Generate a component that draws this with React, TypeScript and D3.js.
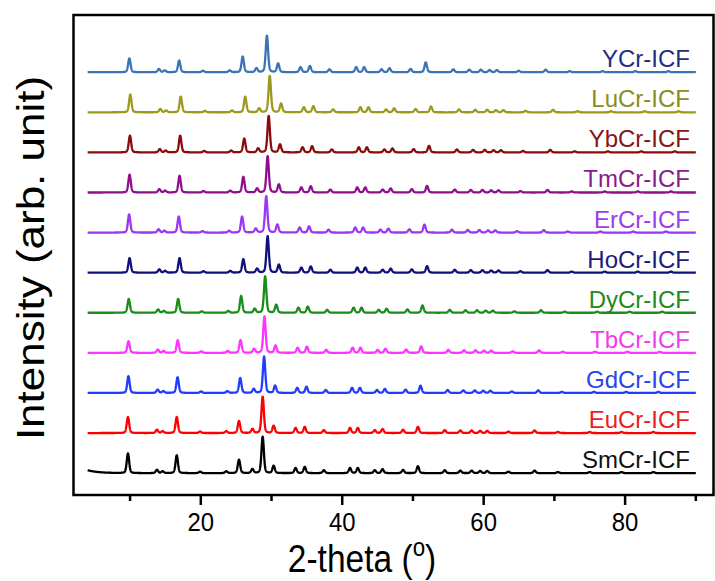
import React from "react";
import * as d3 from "d3";

// ---- data ----
const seriesNames = ["SmCr-ICF", "EuCr-ICF", "GdCr-ICF", "TbCr-ICF", "DyCr-ICF", "HoCr-ICF", "ErCr-ICF", "TmCr-ICF", "YbCr-ICF", "LuCr-ICF", "YCr-ICF"];
const lineColors = ["#000000", "#ff0000", "#1f3cff", "#ff33ff", "#1a8c1a", "#10107a", "#9b36f5", "#8e0e8e", "#8b0a0a", "#9c9a1c", "#3a74b6"];
const labelColors = ["#111111", "#ee1c1c", "#2a44e8", "#f03cf0", "#1e8a1e", "#1a1a80", "#9a3cf0", "#8a1a8a", "#8a1414", "#8c8c1c", "#1f2d86"];
// position (2-theta) of the strongest reflection for each sample
const mainPeakAngle = [28.75, 28.75, 28.95, 29.0, 29.1, 29.45, 29.25, 29.45, 29.6, 29.75, 29.35];
// reflections of SmCr-ICF (2-theta) and their relative intensities (%)
const refAngles = [9.7, 13.8, 14.6, 16.6, 19.9, 23.6, 25.4, 27.3, 28.75, 30.3, 33.4, 34.7, 37.4, 41.1, 42.2, 44.6, 45.7, 48.6, 50.7, 54.5, 56.7, 58.3, 59.5, 60.5, 63.5, 67.2, 70.5, 75.0, 79.5, 84.0];
const refIntensity = [50, 9, 5, 45, 4, 5, 38, 11, 100, 20, 14, 17, 8, 14, 14, 8, 11, 9, 19, 8, 7, 7, 6, 6, 4, 7, 3, 3, 3, 3];
// per-sample intensities of the strong reflections at ~9.7, 16.6, 25.4, 30.3, 50.7
const strongIdx = [0, 3, 6, 9, 18];
const strongIntensity = [
  [54, 49, 37, 20, 19],
  [44, 44, 33, 20, 17],
  [46, 43, 41, 20, 20],
  [32, 35, 35, 20, 18],
  [38, 38, 46, 22, 20],
  [40, 40, 37, 22, 18],
  [50, 44, 44, 22, 22],
  [49, 46, 43, 22, 18],
  [46, 46, 38, 22, 18],
  [49, 43, 43, 24, 16],
  [38, 32, 43, 24, 27],
];
const xTicksMajor = [20, 40, 60, 80];
const xTicksMinor = [10, 30, 50, 70, 90];

const W = 715, H = 581;
const left = 73.5, right = 713.5, top = 15, bottom = 495;
const OFFSET = 110;

function buildSeries(i: number) {
  const r = Math.sin((mainPeakAngle[i] / 2) * Math.PI / 180) / Math.sin((28.75 / 2) * Math.PI / 180);
  const peaks = refAngles.map((a, k) => {
    const th = Math.asin(Math.min(1, Math.sin((a / 2) * Math.PI / 180) * r)) * 360 / Math.PI;
    let I = refIntensity[k];
    const s = strongIdx.indexOf(k);
    if (s >= 0) I = strongIntensity[i][s];
    return { th, I };
  });
  const w = 0.4;
  const pts: [number, number][] = [];
  for (let t = 4; t <= 90.001; t += 0.02) {
    let v = 0;
    for (const p of peaks) {
      const d = (t - p.th) / (w / 2);
      v += p.I * (0.7 * Math.exp(-Math.LN2 * d * d) + 0.3 / (1 + d * d));
    }
    if (i === 0) v += 8 * Math.exp(-(t - 4) / 1.5);
    pts.push([t, v + i * OFFSET]);
  }
  return pts;
}

export default function App() {
  const x = d3.scaleLinear().domain([2, 92.5]).range([left, right]);
  const y = d3.scaleLinear().domain([-60, 1257]).range([bottom, top]);
  const line = d3.line<[number, number]>().x(d => x(d[0])).y(d => y(d[1]));
  const font = "'Liberation Sans', Arial, sans-serif";
  return (
    <svg width={W} height={H} style={{ position: "absolute", left: 0, top: 0, background: "#fff" }} fontFamily={font}>
      <rect x={0} y={0} width={W} height={H} fill="#fff" />
      {seriesNames.map((n, i) => (
        <path key={n} d={line(buildSeries(i)) || ""} fill="none" stroke={lineColors[i]} strokeWidth={2.3} strokeLinejoin="round" />
      ))}
      {seriesNames.map((n, i) => (
        <text key={n + "l"} x={690} y={y(i * OFFSET) - 5} textAnchor="end" fontSize={24} fill={labelColors[i]}>{n}</text>
      ))}
      <rect x={left} y={top} width={right - left} height={bottom - top} fill="none" stroke="#000" strokeWidth={2.5} />
      {xTicksMajor.map(t => (
        <g key={t}>
          <line x1={x(t)} x2={x(t)} y1={bottom} y2={bottom + 10} stroke="#000" strokeWidth={2.5} />
          <text transform={`translate(${x(t)},531) scale(0.92,1)`} textAnchor="middle" fontSize={26}>{t}</text>
        </g>
      ))}
      {xTicksMinor.map(t => (
        <line key={t} x1={x(t)} x2={x(t)} y1={bottom} y2={bottom + 6} stroke="#000" strokeWidth={2.5} />
      ))}
      <text transform="translate(362,572) scale(0.86,1)" textAnchor="middle" fontSize={39}>
        2-theta (<tspan fontSize={26} dy={-16}>o</tspan><tspan dy={16}>)</tspan>
      </text>
      <text transform="translate(44,258) rotate(-90) scale(1,0.87)" textAnchor="middle" fontSize={44}>Intensity (arb. unit)</text>
    </svg>
  );
}
